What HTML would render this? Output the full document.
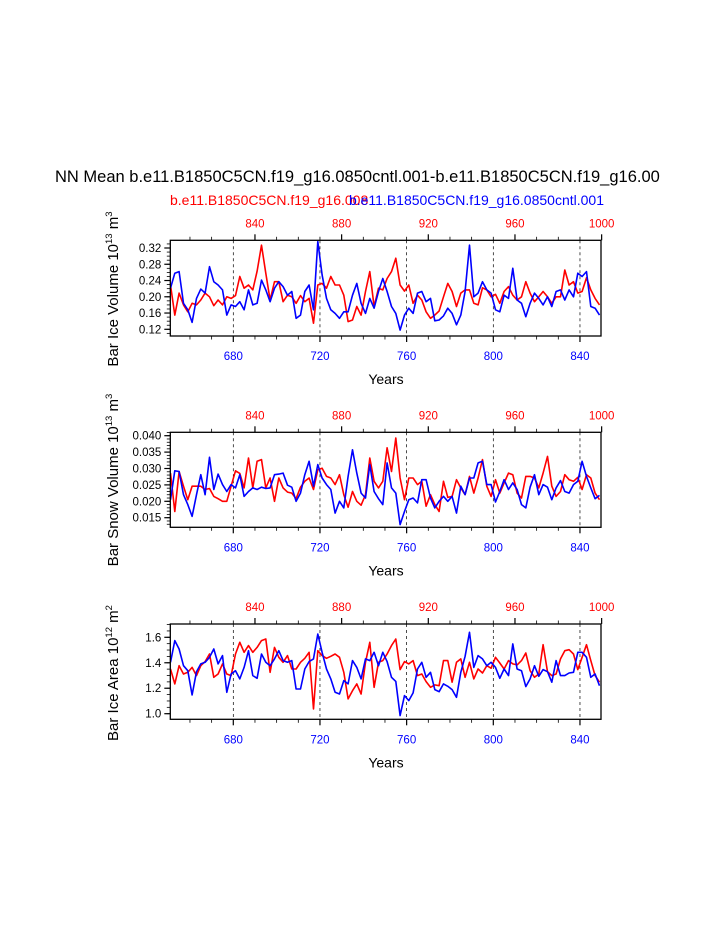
<!DOCTYPE html>
<html><head><meta charset="utf-8"><style>
html,body{margin:0;padding:0;background:#fff;}
svg{display:block;font-family:"Liberation Sans",Arial,sans-serif;}
</style></head><body>
<svg id="chart" width="723" height="935" viewBox="0 0 723 935" xmlns="http://www.w3.org/2000/svg">
<rect width="723" height="935" fill="#fff"/>
<text x="55" y="182" font-size="16.5" fill="#000">NN Mean b.e11.B1850C5CN.f19_g16.0850cntl.001-b.e11.B1850C5CN.f19_g16.00</text>
<text x="170" y="205" font-size="14" fill="#ff0000">b.e11.B1850C5CN.f19_g16.008</text>
<text x="604" y="205" font-size="14" fill="#0000ff" text-anchor="end">b.e11.B1850C5CN.f19_g16.0850cntl.001</text>
<g id="plots"></g>
</svg>
<script>
// ---- data ----
const blueYears = []; for (let y = 651; y <= 849; y += 2) blueYears.push(y);
const redOffsetYears = 150;
const iceVolBlue = [0.221,0.258,0.262,0.184,0.168,0.137,0.196,0.219,0.209,0.274,0.237,0.229,0.217,0.155,0.180,0.176,0.188,0.168,0.217,0.180,0.184,0.241,0.217,0.188,0.221,0.237,0.225,0.204,0.213,0.147,0.155,0.213,0.229,0.168,0.336,0.254,0.196,0.168,0.159,0.147,0.163,0.163,0.204,0.233,0.184,0.159,0.196,0.172,0.213,0.245,
0.213,0.176,0.159,0.118,0.155,0.172,0.159,0.209,0.213,0.188,0.196,0.141,0.143,0.153,0.172,0.159,0.131,0.155,0.213,0.327,0.200,0.209,0.237,0.217,0.209,0.168,0.163,0.204,0.196,0.270,0.192,0.184,0.151,0.184,0.209,0.196,0.180,0.200,0.176,0.213,0.217,0.192,0.217,0.200,0.258,0.250,0.262,0.176,0.172,0.155];
const iceVolRed = [0.229,0.155,0.209,0.180,0.163,0.184,0.180,0.192,0.209,0.200,0.178,0.192,0.180,0.200,0.196,0.203,0.250,0.221,0.229,0.217,0.263,0.327,0.258,0.192,0.237,0.237,0.188,0.204,0.200,0.184,0.203,0.188,0.196,0.135,0.229,0.233,0.221,0.250,0.229,0.229,0.204,0.139,0.143,0.176,0.155,0.213,0.262,0.176,0.221,0.217,
0.245,0.262,0.295,0.229,0.214,0.229,0.184,0.204,0.192,0.163,0.147,0.155,0.165,0.200,0.233,0.213,0.176,0.209,0.217,0.217,0.184,0.180,0.222,0.217,0.200,0.206,0.184,0.213,0.225,0.204,0.192,0.200,0.237,0.209,0.188,0.200,0.213,0.200,0.184,0.200,0.200,0.266,0.229,0.237,0.209,0.213,0.247,0.217,0.196,0.180];
const snowBlue = [0.0205,0.0293,0.0291,0.0220,0.0190,0.0154,0.0220,0.0281,0.0220,0.0334,0.0236,0.0283,0.0251,0.0230,0.0251,0.0241,0.0281,0.0215,0.0230,0.0241,0.0236,0.0243,0.0239,0.0241,0.0281,0.0283,0.0286,0.0249,0.0243,0.0200,0.0225,0.0281,0.0322,0.0246,0.0312,0.0271,0.0251,0.0236,0.0164,0.0200,0.0180,0.0276,0.0357,0.0286,0.0225,0.0210,0.0312,0.0230,0.0208,0.0190,
0.0317,0.0241,0.0225,0.0129,0.0169,0.0205,0.0210,0.0195,0.0266,0.0266,0.0210,0.0180,0.0200,0.0215,0.0200,0.0215,0.0164,0.0246,0.0220,0.0271,0.0271,0.0317,0.0322,0.0251,0.0251,0.0198,0.0230,0.0266,0.0236,0.0256,0.0236,0.0190,0.0180,0.0243,0.0281,0.0220,0.0251,0.0243,0.0205,0.0241,0.0263,0.0230,0.0225,0.0251,0.0261,0.0322,0.0276,0.0241,0.0208,0.0218];
const snowRed = [0.0286,0.0169,0.0291,0.0246,0.0205,0.0246,0.0246,0.0246,0.0236,0.0239,0.0215,0.0208,0.0200,0.0200,0.0246,0.0293,0.0285,0.0241,0.0332,0.0241,0.0322,0.0327,0.0241,0.0271,0.0200,0.0271,0.0241,0.0228,0.0225,0.0208,0.0243,0.0261,0.0271,0.0236,0.0296,0.0301,0.0276,0.0271,0.0251,0.0281,0.0220,0.0182,0.0230,0.0200,0.0188,0.0220,0.0332,0.0261,0.0241,0.0261,
0.0363,0.0291,0.0393,0.0271,0.0205,0.0271,0.0271,0.0251,0.0261,0.0185,0.0220,0.0190,0.0169,0.0261,0.0212,0.0215,0.0266,0.0241,0.0220,0.0276,0.0225,0.0271,0.0327,0.0246,0.0215,0.0266,0.0225,0.0256,0.0286,0.0281,0.0225,0.0210,0.0276,0.0276,0.0271,0.0241,0.0286,0.0337,0.0246,0.0215,0.0230,0.0281,0.0266,0.0261,0.0273,0.0236,0.0281,0.0271,0.0225,0.0205];
const areaBlue = [1.404,1.574,1.508,1.377,1.338,1.147,1.330,1.391,1.404,1.443,1.508,1.391,1.456,1.168,1.312,1.338,1.273,1.364,1.495,1.299,1.278,1.469,1.404,1.377,1.430,1.495,1.417,1.404,1.417,1.194,1.194,1.351,1.409,1.430,1.626,1.482,1.351,1.273,1.168,1.155,1.260,1.234,1.417,1.364,1.273,1.430,1.417,1.482,1.377,1.482,
1.409,1.286,1.254,0.985,1.142,1.103,1.163,1.351,1.404,1.286,1.325,1.189,1.173,1.234,1.215,1.189,1.129,1.325,1.451,1.639,1.364,1.456,1.430,1.377,1.404,1.364,1.278,1.351,1.299,1.548,1.351,1.338,1.213,1.273,1.377,1.294,1.346,1.330,1.247,1.417,1.299,1.299,1.320,1.325,1.482,1.482,1.443,1.286,1.312,1.220];
const areaRed = [1.351,1.234,1.377,1.312,1.325,1.364,1.299,1.377,1.409,1.469,1.286,1.312,1.391,1.312,1.299,1.469,1.561,1.482,1.535,1.482,1.521,1.574,1.587,1.325,1.521,1.443,1.404,1.456,1.351,1.351,1.404,1.435,1.482,1.037,1.495,1.456,1.435,1.451,1.469,1.443,1.325,1.116,1.181,1.234,1.155,1.404,1.561,1.207,1.404,1.417,
1.469,1.535,1.587,1.346,1.409,1.391,1.417,1.299,1.312,1.252,1.207,1.226,1.220,1.417,1.417,1.247,1.404,1.430,1.286,1.404,1.273,1.351,1.320,1.377,1.357,1.443,1.398,1.351,1.417,1.391,1.383,1.417,1.477,1.338,1.286,1.312,1.542,1.330,1.299,1.312,1.430,1.495,1.503,1.469,1.346,1.443,1.542,1.417,1.299,1.247];
const bottomTicks = [680,720,760,800,840];
const topTicks = [840,880,920,960,1000];
const iceVolTicks = [0.12,0.16,0.20,0.24,0.28,0.32];
const snowTicks = [0.015,0.020,0.025,0.030,0.035,0.040];
const areaTicks = [1.0,1.2,1.4,1.6];

// ---- layout ----
const NS = "http://www.w3.org/2000/svg";
const X0 = 170.3, X1 = 601;
function xB(yr){ return 233.3 + (yr - 680) * 2.1667; }
function xT(yr){ return xB(yr - redOffsetYears); }
const plots = document.getElementById('plots');
function el(tag, attrs, parent){ const e = document.createElementNS(NS, tag); for (const k in attrs) e.setAttribute(k, attrs[k]); (parent||plots).appendChild(e); return e; }

const panels = [
 {name:'ice-volume', top:240.3, bot:336, vTopRef:0.32, yTopRef:248, vBotRef:0.12, yBotRef:329.3, ticks:iceVolTicks, minor:0.01, fmt:v=>v.toFixed(2), blue:iceVolBlue, red:iceVolRed, title:['Bar Ice Volume 10','13',' m','3'], titleY:289},
 {name:'snow-volume', top:432.3, bot:527.3, vTopRef:0.040, yTopRef:435.7, vBotRef:0.015, yBotRef:517.7, ticks:snowTicks, minor:0.001, fmt:v=>v.toFixed(3), blue:snowBlue, red:snowRed, title:['Bar Snow Volume 10','13',' m','3'], titleY:480},
 {name:'ice-area', top:624, bot:719.3, vTopRef:1.6, yTopRef:637.3, vBotRef:1.0, yBotRef:713.7, ticks:areaTicks, minor:0.05, fmt:v=>v.toFixed(1), blue:areaBlue, red:areaRed, title:['Bar Ice Area 10','12',' m','2'], titleY:673}
];

panels.forEach(p => {
  const g = el('g', {});
  
  
  const yS = v => p.yBotRef + (v - p.vBotRef) * (p.yTopRef - p.yBotRef) / (p.vTopRef - p.vBotRef);
  const vMin = p.vBotRef + (p.bot - p.yBotRef) * (p.vTopRef - p.vBotRef) / (p.yTopRef - p.yBotRef);
  const vMax = p.vBotRef + (p.top - p.yBotRef) * (p.vTopRef - p.vBotRef) / (p.yTopRef - p.yBotRef);
  bottomTicks.forEach(t => {
    const l = el('line', {x1:xB(t), x2:xB(t), y1:p.top, y2:p.bot, stroke:'#000', 'stroke-width':0.7, 'stroke-dasharray':'3,3'}, g);
    
    
  });
  const cid = 'clip-' + p.name;
  const cp = el('clipPath', {id:cid}, g);
  el('rect', {x:X0, y:p.top, width:X1-X0, height:p.bot-p.top}, cp);
  [['red', p.red, '#ff0000', xT, redOffsetYears], ['blue', p.blue, '#0000ff', xB, 0]].forEach(s => {
    const pts = s[1].map((v, i) => s[3](blueYears[i] + s[4]).toFixed(1) + ',' + yS(v).toFixed(1)).join(' ');
    const pl = el('polyline', {points:pts, fill:'none', stroke:s[2], 'stroke-width':1.6, 'stroke-linejoin':'round', 'clip-path':'url(#'+cid+')'}, g);
    
    
  });
  const fr = el('rect', {x:X0, y:p.top, width:X1-X0, height:p.bot-p.top, fill:'none', stroke:'#000', 'stroke-width':1.3}, g);
  
  
  for (let yr = 660; yr <= 849; yr += 10) {
    const maj = yr % 40 === 0;
    el('line', {x1:xB(yr), x2:xB(yr), y1:p.bot, y2:p.bot + (maj?6:3.5), stroke:'#000', 'stroke-width':maj?1.2:0.8}, g);
  }
  for (let yr = 810; yr <= 1000; yr += 10) {
    const maj = yr % 40 === 0;
    el('line', {x1:xT(yr), x2:xT(yr), y1:p.top, y2:p.top - (maj?6:3.5), stroke:'#000', 'stroke-width':maj?1.2:0.8}, g);
  }
  bottomTicks.forEach(t => {
    const tx = el('text', {x:xB(t), y:p.bot + 24, 'font-size':11.5, fill:'#0000ff', 'text-anchor':'middle'}, g);
    tx.textContent = t;
    
    
  });
  topTicks.forEach(t => {
    const tx = el('text', {x:xT(t), y:p.top - 13, 'font-size':11.5, fill:'#ff0000', 'text-anchor':'middle'}, g);
    tx.textContent = t;
    
    
  });
  const xt = el('text', {x:386, y:p.bot + 48, 'font-size':14, fill:'#000', 'text-anchor':'middle'}, g);
  xt.textContent = 'Years';
  
  
  const nMin = Math.ceil(vMin / p.minor - 1e-6), nMax = Math.floor(vMax / p.minor + 1e-6);
  for (let n = nMin; n <= nMax; n++) {
    const v = n * p.minor;
    el('line', {x1:X0, x2:X0 - 3.5, y1:yS(v), y2:yS(v), stroke:'#000', 'stroke-width':0.8}, g);
  }
  p.ticks.forEach(t => {
    el('line', {x1:X0, x2:X0 - 6, y1:yS(t), y2:yS(t), stroke:'#000', 'stroke-width':1.2}, g);
    const tx = el('text', {x:X0 - 9, y:yS(t) + 4, 'font-size':11.5, fill:'#000', 'text-anchor':'end'}, g);
    tx.textContent = p.fmt(t);
    
    
  });
  const yt = el('text', {x:0, y:0, 'font-size':15, fill:'#000', 'text-anchor':'middle', transform:'translate(118,' + p.titleY + ') rotate(-90)'}, g);
  
  
  const parts = p.title;
  const a = el('tspan', {}, yt); a.textContent = parts[0];
  const b = el('tspan', {dy:-6, 'font-size':9.5}, yt); b.textContent = parts[1];
  const c = el('tspan', {dy:6}, yt); c.textContent = parts[2];
  const d = el('tspan', {dy:-6, 'font-size':9.5}, yt); d.textContent = parts[3];
});
</script>
</body></html>
